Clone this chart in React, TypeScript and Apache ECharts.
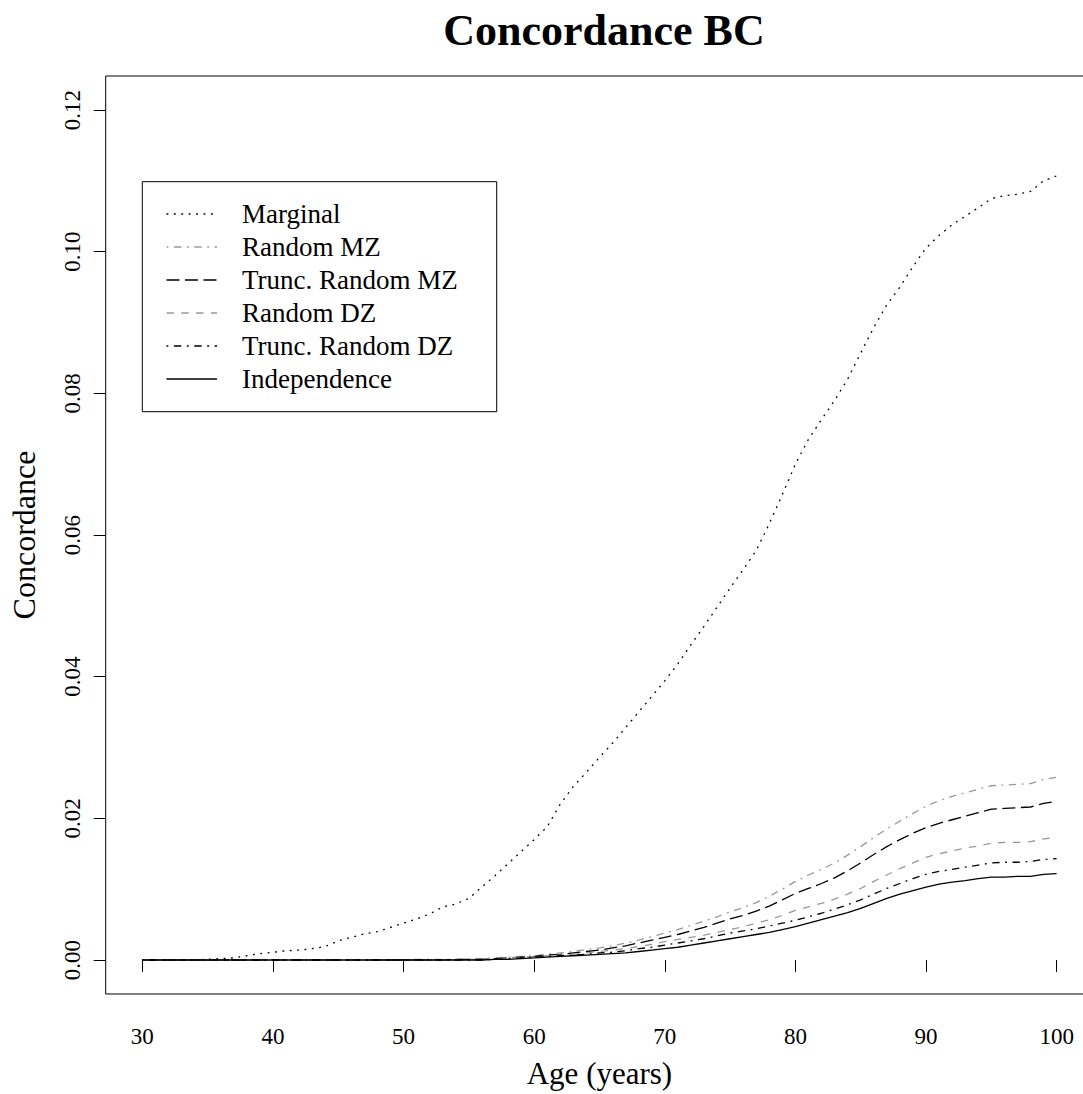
import React, { useEffect, useRef } from "react";
import * as echarts from "echarts";

const ages = [
  30, 31, 32, 33, 34, 35, 36, 37, 38, 39,
  40, 41, 42, 43, 44, 45, 46, 47, 48, 49,
  50, 51, 52, 53, 54, 55, 56, 57, 58, 59,
  60, 61, 62, 63, 64, 65, 66, 67, 68, 69,
  70, 71, 72, 73, 74, 75, 76, 77, 78, 79,
  80, 81, 82, 83, 84, 85, 86, 87, 88, 89,
  90, 91, 92, 93, 94, 95, 96, 97, 98, 99, 100,
];

const marginal = [
  0, 0, 0, 0, 0, 0.0001, 0.0002, 0.0003, 0.0006, 0.0009,
  0.0011, 0.0013, 0.0014, 0.0016, 0.0019, 0.0027, 0.0032, 0.0037, 0.004, 0.0046,
  0.0052, 0.0058, 0.0065, 0.0075, 0.0079, 0.0087, 0.0103, 0.0119, 0.0136, 0.0153,
  0.017, 0.0188, 0.022, 0.0245, 0.0265, 0.0286, 0.0306, 0.0328, 0.035, 0.0372,
  0.0394, 0.0418, 0.0445, 0.0471, 0.0498, 0.0525, 0.0551, 0.0578, 0.0616, 0.0657,
  0.07, 0.0735, 0.0763, 0.079, 0.082, 0.0857, 0.0893, 0.0925, 0.095, 0.0979,
  0.1005, 0.1023, 0.1038, 0.105, 0.1062, 0.1075, 0.1079, 0.1081, 0.1085, 0.11, 0.1107,
];

const randomMZ = [
  0, 0, 0, 0, 0, 0, 0, 0, 0, 0,
  0, 0, 0, 0, 0, 0, 0, 0, 0, 0,
  0, 0.0001, 0.0001, 0.0001, 0.0001, 0.0001, 0.0002, 0.0003, 0.0004, 0.0005,
  0.0006, 0.0008, 0.001, 0.0012, 0.0015, 0.0017, 0.002, 0.0024, 0.0028, 0.0033,
  0.0038, 0.0043, 0.0049, 0.0055, 0.0061, 0.0068, 0.0074, 0.0081, 0.009, 0.01,
  0.0111, 0.012, 0.0128, 0.0137, 0.0148, 0.016, 0.0173, 0.0185, 0.0196, 0.0207,
  0.0217, 0.0225, 0.0231, 0.0236, 0.0241, 0.0246, 0.0247, 0.0248, 0.0249, 0.0255, 0.0258,
];

const truncMZ = [
  0, 0, 0, 0, 0, 0, 0, 0, 0, 0,
  0, 0, 0, 0, 0, 0, 0, 0, 0, 0,
  0, 0, 0, 0, 0.0001, 0.0001, 0.0001, 0.0002, 0.0003, 0.0004,
  0.0005, 0.0007, 0.0008, 0.001, 0.0012, 0.0014, 0.0017, 0.002, 0.0024, 0.0028,
  0.0032, 0.0036, 0.0041, 0.0046, 0.0052, 0.0058, 0.0063, 0.0069, 0.0076, 0.0085,
  0.0094, 0.0101, 0.0108, 0.0116, 0.0126, 0.0137, 0.0149, 0.016, 0.017, 0.0179,
  0.0187, 0.0193, 0.0198, 0.0203, 0.0208, 0.0213, 0.0214, 0.0215, 0.0216, 0.0221, 0.0224,
];

const randomDZ = [
  0, 0, 0, 0, 0, 0, 0, 0, 0, 0,
  0, 0, 0, 0, 0, 0, 0, 0, 0, 0,
  0, 0, 0, 0, 0, 0.0001, 0.0001, 0.0002, 0.0003, 0.0004,
  0.0005, 0.0006, 0.0007, 0.0008, 0.001, 0.0012, 0.0014, 0.0016, 0.0019, 0.0022,
  0.0026, 0.0029, 0.0032, 0.0035, 0.0039, 0.0043, 0.0047, 0.0052, 0.0057, 0.0063,
  0.007, 0.0075, 0.008, 0.0086, 0.0093, 0.0101, 0.0111, 0.012, 0.0129, 0.0137,
  0.0145, 0.015, 0.0154, 0.0158, 0.0161, 0.0165, 0.0166, 0.0166, 0.0167, 0.0171, 0.0173,
];

const truncDZ = [
  0, 0, 0, 0, 0, 0, 0, 0, 0, 0,
  0, 0, 0, 0, 0, 0, 0, 0, 0, 0,
  0, 0, 0, 0, 0, 0, 0, 0.0001, 0.0002, 0.0003,
  0.0004, 0.0005, 0.0006, 0.0007, 0.0008, 0.001, 0.0011, 0.0013, 0.0016, 0.0018,
  0.0021, 0.0024, 0.0027, 0.003, 0.0034, 0.0038, 0.0041, 0.0044, 0.0048, 0.0052,
  0.0056, 0.0061, 0.0066, 0.0072, 0.0078, 0.0085, 0.0093, 0.0101, 0.0108, 0.0115,
  0.0121, 0.0125, 0.0128, 0.0131, 0.0134, 0.0137, 0.0138, 0.0138, 0.0139, 0.0142, 0.0143,
];

const independence = [
  0, 0, 0, 0, 0, 0, 0, 0, 0, 0,
  0, 0, 0, 0, 0, 0, 0, 0, 0, 0,
  0, 0, 0, 0, 0, 0, 0, 0.0001, 0.0001, 0.0002,
  0.0003, 0.0004, 0.0005, 0.0006, 0.0007, 0.0008, 0.0009, 0.001, 0.0012, 0.0014,
  0.0016, 0.0018, 0.0021, 0.0024, 0.0027, 0.003, 0.0033, 0.0036, 0.0039, 0.0043,
  0.0047, 0.0052, 0.0057, 0.0062, 0.0067, 0.0073, 0.008, 0.0087, 0.0093, 0.0098,
  0.0103, 0.0107, 0.011, 0.0112, 0.0115, 0.0117, 0.0117, 0.0118, 0.0118, 0.0121, 0.0122,
];

const seriesNames = [
  "Marginal",
  "Random MZ",
  "Trunc. Random MZ",
  "Random DZ",
  "Trunc. Random DZ",
  "Independence",
];
const seriesValues = [marginal, randomMZ, truncMZ, randomDZ, truncDZ, independence];

const xTicks = [30, 40, 50, 60, 70, 80, 90, 100];
const yTicks = [0, 0.02, 0.04, 0.06, 0.08, 0.1, 0.12];

const U = 1.85;
const seriesStyles = [
  { color: "#000000", dash: [U, 3 * U] },
  { color: "#999999", dash: [U, 3 * U, 4 * U, 3 * U] },
  { color: "#000000", dash: [7 * U, 3 * U] },
  { color: "#999999", dash: [4 * U, 4 * U] },
  { color: "#000000", dash: [U, 3 * U, 4 * U, 3 * U] },
  { color: "#000000", dash: null as number[] | null },
];

const FONT = "'Liberation Serif', 'Times New Roman', serif";

export default function App() {
  const ref = useRef<HTMLDivElement>(null);

  useEffect(() => {
    if (!ref.current) return;
    const chart = echarts.init(ref.current, undefined, { renderer: "svg" });

    const series = seriesNames.map((name, i) => ({
      name,
      type: "line",
      data: ages.map((a, j) => [a, seriesValues[i][j]]),
      showSymbol: false,
      symbol: "none",
      lineStyle: {
        color: seriesStyles[i].color,
        width: 1.3,
        type: seriesStyles[i].dash ? seriesStyles[i].dash : "solid",
      },
      z: 2 + i,
    }));

    const legendX = 142.3;
    const legendY = 181.7;
    const rowY0 = 214;
    const rowStep = 33;
    const legendGraphics: any[] = [
      {
        type: "rect",
        shape: { x: legendX, y: legendY, width: 354.4, height: 230 },
        style: { fill: "#ffffff", stroke: "#000000", lineWidth: 1 },
        z: 100,
      },
    ];
    seriesNames.forEach((name, i) => {
      const y = rowY0 + i * rowStep;
      legendGraphics.push({
        type: "line",
        shape: { x1: 166.5, y1: y, x2: 217, y2: y },
        style: {
          stroke: seriesStyles[i].color,
          lineWidth: 1.3,
          lineDash: seriesStyles[i].dash || undefined,
        },
        z: 101,
      });
      legendGraphics.push({
        type: "text",
        x: 242,
        y: y,
        style: {
          text: name,
          fontFamily: FONT,
          fontSize: 27,
          fill: "#000000",
          verticalAlign: "middle",
          align: "left",
        },
        z: 101,
      });
    });

    chart.setOption({
      animation: false,
      backgroundColor: "#ffffff",
      textStyle: { fontFamily: FONT },
      title: {
        text: "Concordance BC",
        left: 599,
        top: 3,
        textAlign: "center",
        textStyle: {
          fontFamily: FONT,
          fontSize: 44,
          fontWeight: "bold",
          color: "#000000",
        },
      },
      grid: {
        left: 105.7,
        top: 76,
        width: 987.5,
        height: 918,
        show: true,
        borderColor: "#000000",
        borderWidth: 1,
        backgroundColor: "transparent",
        containLabel: false,
        outerBoundsMode: "none",
      },
      xAxis: {
        type: "value",
        min: 27.2,
        max: 102.8,
        name: "Age (years)",
        nameLocation: "middle",
        nameGap: 64,
        nameTextStyle: { fontFamily: FONT, fontSize: 31, color: "#000000" },
        axisLine: { show: false },
        splitLine: { show: false },
        axisTick: {
          show: true,
          inside: false,
          length: 12,
          customValues: xTicks,
          lineStyle: { color: "#000000", width: 1 },
        },
        axisLabel: {
          customValues: xTicks,
          margin: 31,
          fontFamily: FONT,
          fontSize: 23,
          color: "#000000",
          formatter: (v: number) => String(v),
        },
      },
      yAxis: {
        type: "value",
        min: -0.0048,
        max: 0.1248,
        name: "Concordance",
        nameLocation: "middle",
        nameGap: 66,
        nameRotate: 90,
        nameTextStyle: { fontFamily: FONT, fontSize: 32, color: "#000000" },
        axisLine: { show: false },
        splitLine: { show: false },
        axisTick: {
          show: true,
          inside: false,
          length: 12,
          customValues: yTicks,
          lineStyle: { color: "#000000", width: 1 },
        },
        axisLabel: {
          customValues: yTicks,
          rotate: 90,
          margin: 22,
          fontFamily: FONT,
          fontSize: 23,
          color: "#000000",
          formatter: (v: number) => v.toFixed(2),
        },
      },
      series,
      graphic: legendGraphics,
    });

    return () => {
      chart.dispose();
    };
  }, []);

  return (
    <div
      style={{
        position: "absolute",
        left: 0,
        top: 0,
        width: 1083,
        height: 1094,
        overflow: "hidden",
        background: "#fff",
      }}
    >
      <div ref={ref} style={{ width: 1110, height: 1094 }} />
    </div>
  );
}
